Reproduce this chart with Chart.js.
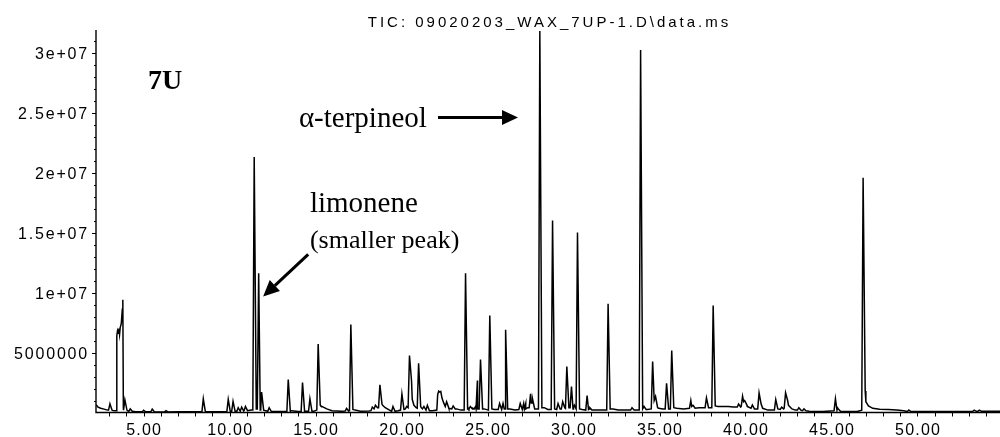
<!DOCTYPE html>
<html>
<head>
<meta charset="utf-8">
<script src="https://cdn.jsdelivr.net/npm/chart.js@4.4.0/dist/chart.umd.min.js"></script>
<style>
html, body { margin: 0; padding: 0; background: #fff; }
#wrap { width: 1000px; height: 437px; }
</style>
</head>
<body>
<div id="wrap"><canvas id="tic" width="1000" height="437"></canvas></div>
<script>
// Resolved peaks: retention time (min), apex abundance and the trace level
// just before / just after each peak (all abundances in millions of counts)
const peakTime = [
  3.04, 3.91, 4.22, 5.00, 5.50, 6.30, 8.47, 9.92, 10.20, 10.50, 10.70, 10.92,
  11.43, 11.69, 11.86, 12.30, 13.41, 14.24, 14.67, 15.15, 16.80, 17.05,
  18.30, 18.48, 18.74, 19.50, 20.02, 20.30, 20.46, 20.99, 21.30, 21.50,
  22.62, 23.00, 23.72, 24.00, 24.30, 24.41, 24.59, 25.13, 25.70, 25.90,
  26.05, 26.90, 27.10, 27.22, 27.50, 27.62, 28.04, 28.78, 29.10, 29.37,
  29.61, 29.88, 30.05, 30.23, 30.79, 30.95, 32.01, 33.40, 33.90, 34.10,
  34.60, 34.77, 35.41, 35.71, 36.82, 36.95, 37.73, 38.12, 39.60, 39.83,
  39.97, 40.40, 40.79, 41.76, 42.10, 42.33, 43.10, 43.40, 45.23, 45.40,
  46.84, 49.50, 53.30, 53.60
];
const peakHeight = [
  0.72, 1.06, 0.30, 0.18, 0.28, 0.15, 1.14, 1.10, 0.92, 0.40, 0.45, 0.50,
  21.3, 11.6, 1.70, 0.40, 2.75, 2.50, 1.14, 5.70, 0.35, 7.33,
  0.45, 0.60, 2.30, 0.50, 1.55, 0.50, 4.75, 4.10, 0.50, 0.60,
  0.90, 0.55, 11.6, 0.50, 0.50, 2.67, 4.42, 8.08, 0.75, 0.75,
  6.90, 0.75, 0.75, 0.75, 1.55, 1.10, 31.8, 16.0, 0.75, 0.90,
  3.83, 2.17, 0.60, 15.0, 1.42, 0.40, 9.06, 0.40, 30.2, 0.50,
  4.25, 1.33, 2.44, 5.17, 1.00, 0.60, 1.22, 8.92, 0.70, 1.36,
  1.00, 0.63, 1.64, 1.08, 0.45, 1.64, 0.40, 0.30, 1.14, 0.30,
  19.56, 0.20, 0.20, 0.20
];
const peakStart = [
  0.20, 0.20, 0.10, 0.06, 0.06, 0.05, 0.06, 0.08, 0.10, 0.10, 0.12, 0.15,
  0.20, 0.30, 0.20, 0.10, 0.10, 0.10, 0.10, 0.20, 0.12, 0.15,
  0.15, 0.30, 0.40, 0.10, 0.20, 0.30, 0.40, 0.35, 0.30, 0.20,
  0.50, 0.30, 0.20, 0.30, 0.30, 0.30, 0.30, 0.20, 0.25, 0.25,
  0.30, 0.25, 0.25, 0.30, 0.40, 0.80, 0.30, 0.25, 0.25, 0.30,
  0.35, 0.40, 0.30, 0.30, 0.20, 0.25, 0.20, 0.20, 0.20, 0.30,
  0.30, 1.00, 0.30, 0.30, 0.35, 0.50, 0.40, 0.40, 0.45, 0.50,
  0.90, 0.35, 0.30, 0.20, 0.25, 0.35, 0.20, 0.15, 0.15, 0.20,
  0.20, 0.08, 0.10, 0.10
];
const peakEnd = [
  0.20, 0.20, 0.10, 0.06, 0.06, 0.05, 0.06, 0.08, 0.10, 0.10, 0.12, 0.15,
  0.30, 0.30, 0.20, 0.10, 0.10, 0.10, 0.10, 0.60, 0.12, 0.25,
  0.30, 0.40, 0.70, 0.10, 0.25, 0.40, 2.60, 0.50, 0.20, 0.15,
  0.40, 0.30, 0.30, 0.30, 0.30, 0.30, 0.30, 0.30, 0.25, 0.30,
  0.30, 0.25, 0.30, 0.40, 0.80, 0.30, 0.40, 0.30, 0.30, 0.40,
  0.40, 0.40, 0.30, 0.30, 0.30, 0.20, 0.30, 0.20, 0.40, 0.25,
  1.00, 0.40, 0.30, 0.40, 0.60, 0.35, 0.40, 0.55, 0.45, 1.00,
  0.60, 0.30, 0.70, 0.30, 0.30, 1.00, 0.20, 0.15, 0.40, 0.10,
  1.80, 0.08, 0.10, 0.10
];

// Baseline drift, the unresolved front at ~3.5 min and peak tails
const baseTime = [
  2.23, 2.35, 2.50, 2.70, 2.90, 3.20, 3.40, 3.44, 3.48, 3.52, 3.56, 3.60,
  3.64, 3.70, 3.76, 3.79, 3.82, 4.05, 4.50, 7.00, 8.00, 9.50, 10.35, 11.05,
  11.25, 12.10, 12.50, 13.00, 13.60, 14.00, 14.50, 14.90, 15.30, 15.45, 15.65, 15.95,
  16.50, 17.30, 17.60, 18.10, 18.90, 19.05, 19.30, 19.80, 20.15, 20.62, 20.72, 20.85,
  21.15, 21.80, 22.05, 22.10, 22.16, 22.22, 22.28, 22.35, 22.45, 22.55, 22.75, 23.20,
  23.45, 23.90, 24.15, 24.80, 25.40, 26.30, 26.60, 28.30, 28.50, 29.25, 30.50, 31.20,
  31.70, 32.30, 32.60, 33.00, 33.60, 34.30, 34.95, 35.20, 36.00, 36.40, 37.30, 37.50,
  38.40, 39.00, 39.30, 40.10, 40.60, 41.00, 41.30, 41.50, 42.50, 42.70, 42.90, 43.70,
  44.50, 45.60, 46.50, 47.00, 47.15, 47.40, 47.80, 48.30, 48.80, 49.20, 50.20, 52.00,
  53.00, 54.00, 54.80
];
const baseLevel = [
  0.65, 0.45, 0.35, 0.28, 0.20, 0.17, 0.15, 6.40, 6.80, 6.60, 7.00, 6.50,
  7.10, 7.40, 8.60, 9.40, 0.40, 0.15, 0.08, 0.06, 0.06, 0.07, 0.10, 0.15,
  0.20, 0.15, 0.08, 0.08, 0.15, 0.08, 0.10, 0.10, 0.55, 0.45, 0.30, 0.15,
  0.10, 0.20, 0.10, 0.12, 0.60, 0.40, 0.20, 0.15, 0.25, 1.10, 0.60, 0.40,
  0.40, 0.15, 0.20, 1.50, 1.78, 1.70, 1.75, 1.20, 0.80, 0.55, 0.35, 0.30,
  0.20, 0.35, 0.35, 0.30, 0.25, 0.30, 0.20, 0.40, 0.25, 0.30, 0.25, 0.20,
  0.20, 0.30, 0.20, 0.20, 0.20, 0.25, 0.35, 0.30, 0.35, 0.30, 0.40, 0.40,
  0.50, 0.50, 0.45, 0.50, 0.30, 0.35, 0.20, 0.20, 0.60, 0.30, 0.20, 0.10,
  0.08, 0.08, 0.08, 0.90, 0.55, 0.35, 0.28, 0.25, 0.20, 0.15, 0.08, 0.08,
  0.08, 0.10, 0.10
];

// Axis ticks and labels
const xTickValues = [5, 10, 15, 20, 25, 30, 35, 40, 45, 50];
const xTickLabels = ['5.00', '10.00', '15.00', '20.00', '25.00', '30.00', '35.00', '40.00', '45.00', '50.00'];
const yTickValues = [5, 10, 15, 20, 25, 30];
const yTickLabels = ['5000000', '1e+07', '1.5e+07', '2e+07', '2.5e+07', '3e+07'];

const titleText = 'TIC: 09020203_WAX_7UP-1.D\\data.ms';

// Text notes and arrows, placed in (minutes, millions) coordinates
const notes = [
  { text: '7U', t: 5.25, v: 27.0, font: 'bold 28px "Liberation Serif"', align: 'left' },
  { text: 'α-terpineol', t: 21.47, v: 23.83, font: '29px "Liberation Serif"', align: 'right' },
  { text: 'limonene', t: 14.67, v: 16.69, font: '29px "Liberation Serif"', align: 'left' },
  { text: '(smaller peak)', t: 14.67, v: 13.75, font: '26px "Liberation Serif"', align: 'left' }
];
const arrows = [
  { from: [22.12, 24.58], to: [26.77, 24.58] },
  { from: [14.57, 13.17], to: [11.95, 9.67] }
];

// Each peak becomes a narrow spike: start level, apex, end level
const LEAD = 0.08, TAIL = 0.12;
const trace = [];
peakTime.forEach((t, i) => {
  trace.push({ x: t - LEAD, y: peakStart[i] });
  trace.push({ x: t, y: peakHeight[i] });
  trace.push({ x: t + TAIL, y: peakEnd[i] });
});
baseTime.forEach((t, i) => {
  const covered = peakTime.some(p => t > p - LEAD && t < p + TAIL);
  if (!covered) trace.push({ x: t, y: baseLevel[i] });
});
trace.sort((a, b) => a.x - b.x);

function drawArrow(ctx, x0, y0, x1, y1) {
  const head = 16, half = 7.5;
  const ang = Math.atan2(y1 - y0, x1 - x0);
  const bx = x1 - head * Math.cos(ang), by = y1 - head * Math.sin(ang);
  ctx.lineWidth = 3;
  ctx.beginPath();
  ctx.moveTo(x0, y0);
  ctx.lineTo(bx, by);
  ctx.stroke();
  ctx.beginPath();
  ctx.moveTo(x1, y1);
  ctx.lineTo(bx + half * Math.sin(ang), by - half * Math.cos(ang));
  ctx.lineTo(bx - half * Math.sin(ang), by + half * Math.cos(ang));
  ctx.closePath();
  ctx.fill();
}

const axesPlugin = {
  id: 'axes',
  afterDraw(chart) {
    const { ctx, chartArea: a, scales: { x, y } } = chart;
    ctx.save();
    ctx.strokeStyle = '#000';
    ctx.fillStyle = '#000';

    ctx.lineWidth = 1.4;
    ctx.beginPath();
    ctx.moveTo(a.left, a.top);
    ctx.lineTo(a.left, a.bottom);
    ctx.lineTo(a.right, a.bottom);
    ctx.stroke();

    // minute ticks along the bottom
    ctx.lineWidth = 1;
    ctx.beginPath();
    for (let m = Math.ceil(x.min); m <= x.max; m++) {
      const px = Math.round(x.getPixelForValue(m)) + 0.5;
      ctx.moveTo(px, a.bottom);
      ctx.lineTo(px, a.bottom + 4);
    }
    // 1e6 ticks on the left, longer where labelled
    for (let v = 1; v <= y.max; v++) {
      const py = Math.round(y.getPixelForValue(v)) + 0.5;
      const len = v % 5 === 0 ? 4 : 2;
      ctx.moveTo(a.left, py);
      ctx.lineTo(a.left - len, py);
    }
    ctx.stroke();

    ctx.font = '16px "Liberation Sans"';
    ctx.letterSpacing = '1.2px';
    ctx.textAlign = 'center';
    ctx.textBaseline = 'alphabetic';
    xTickValues.forEach((v, i) => {
      ctx.fillText(xTickLabels[i], x.getPixelForValue(v) + 0.6, a.bottom + 22);
    });

    ctx.letterSpacing = '1.8px';
    ctx.textAlign = 'right';
    yTickValues.forEach((v, i) => {
      ctx.fillText(yTickLabels[i], a.left - 7, y.getPixelForValue(v) + 6);
    });

    ctx.font = '15px "Liberation Sans"';
    ctx.letterSpacing = '3px';
    ctx.textAlign = 'center';
    ctx.fillText(titleText, (a.left + a.right) / 2 + 1.5, 27);
    ctx.restore();
  }
};

const notesPlugin = {
  id: 'notes',
  afterDraw(chart) {
    const { ctx, scales: { x, y } } = chart;
    ctx.save();
    ctx.fillStyle = '#000';
    ctx.strokeStyle = '#000';
    ctx.textBaseline = 'alphabetic';
    notes.forEach(n => {
      ctx.font = n.font;
      ctx.textAlign = n.align;
      ctx.fillText(n.text, x.getPixelForValue(n.t), y.getPixelForValue(n.v));
    });
    arrows.forEach(ar => {
      drawArrow(ctx,
        x.getPixelForValue(ar.from[0]), y.getPixelForValue(ar.from[1]),
        x.getPixelForValue(ar.to[0]), y.getPixelForValue(ar.to[1]));
    });
    ctx.restore();
  }
};

new Chart(document.getElementById('tic'), {
  type: 'line',
  data: {
    datasets: [{
      data: trace,
      borderColor: '#000',
      borderWidth: 1.5,
      pointRadius: 0,
      tension: 0,
      fill: false
    }]
  },
  options: {
    responsive: false,
    animation: false,
    events: [],
    layout: { padding: { top: 30, left: 0, right: 0, bottom: 0 } },
    plugins: { legend: { display: false }, tooltip: { enabled: false } },
    scales: {
      x: {
        type: 'linear', min: 2.23, max: 54.8,
        ticks: { display: false }, grid: { display: false }, border: { display: false },
        afterFit: s => { s.height = 24.5; }
      },
      y: {
        min: 0, max: 31.875,
        ticks: { display: false }, grid: { display: false }, border: { display: false },
        afterFit: s => { s.width = 96; }
      }
    }
  },
  plugins: [axesPlugin, notesPlugin]
});
</script>
</body>
</html>
